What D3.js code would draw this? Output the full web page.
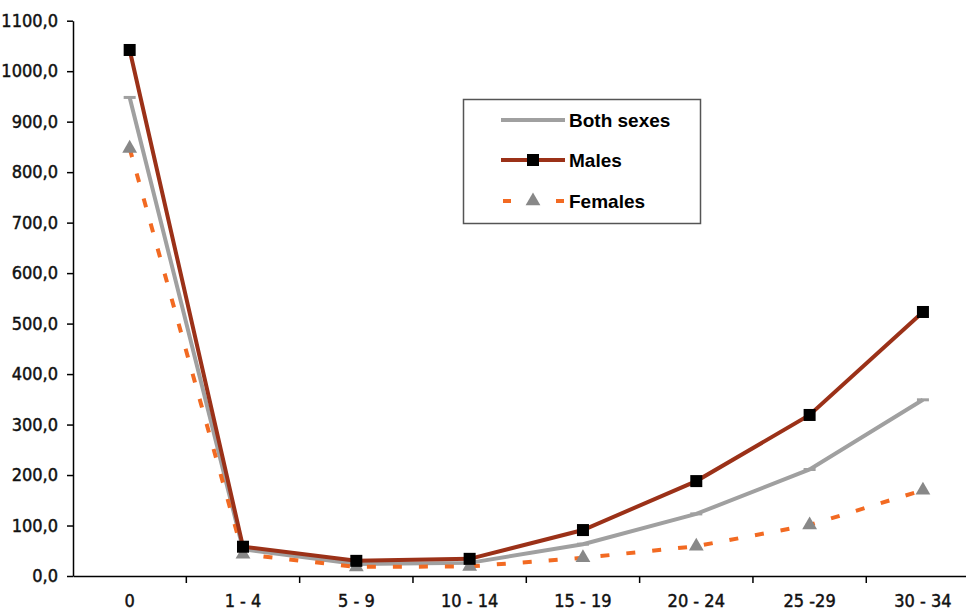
<!DOCTYPE html>
<html><head><meta charset="utf-8">
<script src="https://cdn.jsdelivr.net/npm/d3@7"></script>
<style>body{margin:0;background:#fff}svg{display:block}</style>
</head><body><svg id="c" width="966" height="616"></svg>
<script>
const categories = ["0","1 - 4","5 - 9","10 - 14","15 - 19","20 - 24","25 -29","30 - 34"];
const bothSexes = [948, 53, 24, 26, 63, 123, 211, 349];
const males = [1042, 58, 30, 34, 91, 188, 319, 523];
const females = [847, 43, 18, 19, 36, 59, 101, 170];
const yTicks = [0,100,200,300,400,500,600,700,800,900,1000,1100];

const svg = d3.select("#c");
const x = d3.scaleBand().domain(categories).range([73, 979.6]);
const y = d3.scaleLinear().domain([0, 1100]).range([576, 20.7]);
const fmt = v => d3.format(".1f")(v).replace(".", ",");
const tickFont = "'DejaVu Sans Condensed','Liberation Sans Narrow',Arial,sans-serif";

// y axis
const ya = svg.append("g").attr("transform","translate(73,0)")
  .call(d3.axisLeft(y).tickValues(yTicks).tickFormat(fmt).tickSize(6).tickSizeOuter(0));
ya.select(".domain").attr("stroke","#000").attr("stroke-width",1.5);
ya.selectAll(".tick line").attr("stroke","#000").attr("stroke-width",1.5);
ya.selectAll("text").attr("font-family",tickFont).attr("font-size",18).attr("fill","#111")
  .attr("stroke","#111").attr("stroke-width",0.45).attr("x",-15);

// x axis
const xa = svg.append("g").attr("transform","translate(0,576)")
  .call(d3.axisBottom(x).tickSize(0).tickSizeOuter(0));
xa.select(".domain").attr("stroke","#000").attr("stroke-width",1.5);
xa.selectAll("text").attr("font-family",tickFont).attr("font-size",18).attr("fill","#111")
  .attr("stroke","#111").attr("stroke-width",0.45).attr("dy","0").attr("y",31);
// boundary ticks
xa.selectAll(".bt").data(categories.slice(1).concat(["end"])).enter().append("line")
  .attr("class","bt")
  .attr("x1",(d,i)=> x.range()[0] + x.bandwidth()*(i+1)).attr("x2",(d,i)=> x.range()[0] + x.bandwidth()*(i+1))
  .attr("y1",0).attr("y2",7).attr("stroke","#000").attr("stroke-width",1.5);

const cx = d => x(d) + x.bandwidth()/2;
const line = vals => d3.line().x((d,i)=>cx(categories[i])).y(d=>y(d))(vals);

// Both sexes
svg.append("path").attr("d", line(bothSexes)).attr("fill","none").attr("stroke","#a0a0a0").attr("stroke-width",4);
svg.selectAll(".bm").data(bothSexes).enter().append("line")
  .attr("x1",(d,i)=>cx(categories[i])-6).attr("x2",(d,i)=>cx(categories[i])+6)
  .attr("y1",d=>y(d)).attr("y2",d=>y(d)).attr("stroke","#a0a0a0").attr("stroke-width",3);

// Females
svg.append("path").attr("d", line(females)).attr("fill","none").attr("stroke","#f26a22").attr("stroke-width",4).attr("stroke-dasharray","9,17");
const tri = d3.symbol().type(d3.symbolTriangle).size(95);
svg.selectAll(".fm").data(females).enter().append("path")
  .attr("d", tri).attr("transform",(d,i)=>`translate(${cx(categories[i])},${y(d)})`).attr("fill","#888");

// Males
svg.append("path").attr("d", line(males)).attr("fill","none").attr("stroke","#9b3118").attr("stroke-width",4);
svg.selectAll(".mm").data(males).enter().append("rect")
  .attr("x",(d,i)=>cx(categories[i])-6).attr("y",d=>y(d)-6).attr("width",12).attr("height",12).attr("fill","#000");

// legend
const lg = svg.append("g");
lg.append("rect").attr("x",463.5).attr("y",99.5).attr("width",237).attr("height",124).attr("fill","#fff").attr("stroke","#555").attr("stroke-width",1.5);
const legendItems = [
  {name:"Both sexes", y:120, kind:"both"},
  {name:"Males", y:160, kind:"male"},
  {name:"Females", y:201, kind:"female"}
];
legendItems.forEach(it=>{
  if(it.kind==="both"){
    lg.append("line").attr("x1",501).attr("x2",565).attr("y1",it.y).attr("y2",it.y).attr("stroke","#a0a0a0").attr("stroke-width",4);
  } else if(it.kind==="male"){
    lg.append("line").attr("x1",501).attr("x2",565).attr("y1",it.y).attr("y2",it.y).attr("stroke","#9b3118").attr("stroke-width",4);
    lg.append("rect").attr("x",527).attr("y",it.y-6).attr("width",12).attr("height",12).attr("fill","#000");
  } else {
    lg.append("line").attr("x1",503).attr("x2",565).attr("y1",it.y).attr("y2",it.y).attr("stroke","#f26a22").attr("stroke-width",4).attr("stroke-dasharray","8,45");
    lg.append("path").attr("d",tri).attr("transform",`translate(533,${it.y})`).attr("fill","#888");
  }
  lg.append("text").attr("x",569).attr("y",it.y).attr("dy","0.36em").attr("font-family","Arial,'Liberation Sans',sans-serif")
    .attr("font-weight","bold").attr("font-size",19).attr("fill","#000").text(it.name);
});
</script></body></html>
